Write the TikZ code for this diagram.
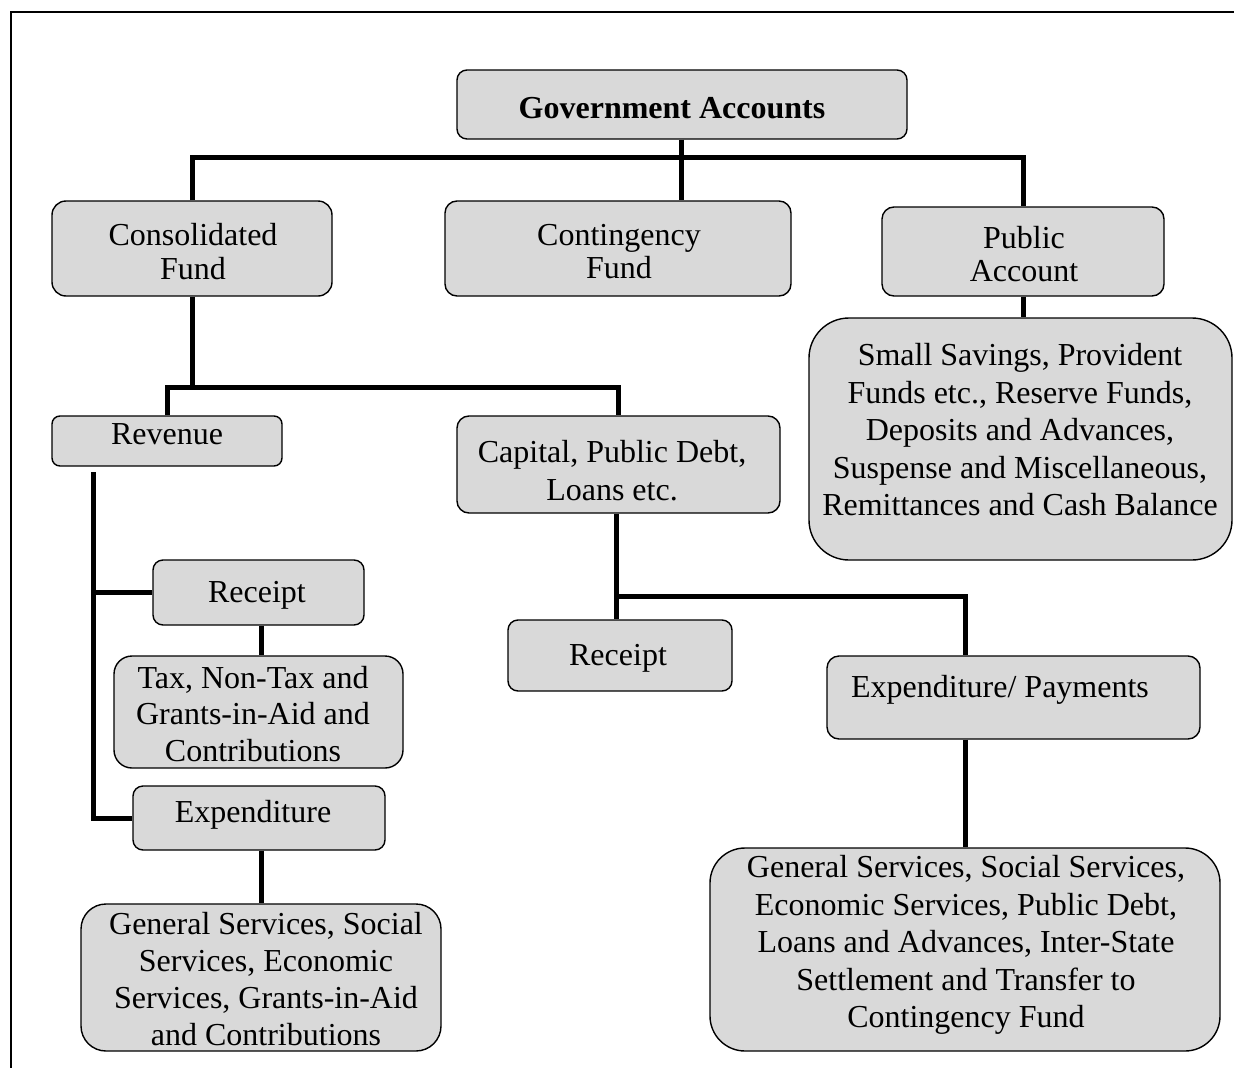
\documentclass[tikz,border=0pt]{standalone}
\usepackage{fontspec}
\setmainfont{Liberation Serif}
\definecolor{boxgray}{RGB}{217,217,217}
\begin{document}
\begin{tikzpicture}[x=1pt,y=-1pt,
  box/.style={draw=black, line width=1.4pt, fill=boxgray, inner sep=0pt, rectangle},
  txt/.style={align=center, inner sep=0pt, font=\fontsize{32}{#1}\selectfont},
  txt/.default=37.5,
  conn/.style={line width=5pt, line join=miter}
]
\useasboundingbox (0,0) rectangle (1234,1068);
\draw[line width=1.8pt] (11,1068) -- (11,12) -- (1234,12);

% boxes
\node[box, rounded corners=10pt, minimum width=450, minimum height=69] (ga) at (682,104.5) {};
\node[box, rounded corners=14pt, minimum width=280, minimum height=95] (cons) at (192,248.5) {};
\node[box, rounded corners=12pt, minimum width=346, minimum height=95] (cont) at (618,248.5) {};
\node[box, rounded corners=12pt, minimum width=282, minimum height=89] (pub) at (1023,251.5) {};
\node[box, rounded corners=40pt, minimum width=423, minimum height=242] (big) at (1020.5,439) {};
\node[box, rounded corners=8pt, minimum width=230, minimum height=50] (rev) at (167,441) {};
\node[box, rounded corners=12pt, minimum width=323, minimum height=97] (cap) at (618.5,464.5) {};
\node[box, rounded corners=10pt, minimum width=211, minimum height=65] (rec1) at (258.5,592.5) {};
\node[box, rounded corners=18pt, minimum width=289, minimum height=112] (tax) at (258.5,712) {};
\node[box, rounded corners=10pt, minimum width=252, minimum height=64] (exp1) at (259,818) {};
\node[box, rounded corners=25pt, minimum width=360, minimum height=147] (bl) at (261,977.5) {};
\node[box, rounded corners=10pt, minimum width=224, minimum height=71] (rec2) at (620,655.5) {};
\node[box, rounded corners=12pt, minimum width=373, minimum height=83] (expp) at (1013.5,697.5) {};
\node[box, rounded corners=35pt, minimum width=510, minimum height=203] (br) at (965,949.5) {};

% texts
\node[txt, font=\fontsize{32}{34}\selectfont\bfseries] (gat) at (672,108) {Government Accounts};
\node[txt=34] (const) at (193,252) {Consolidated\\Fund};
\node[txt=33] (contt) at (619,252) {Contingency\\Fund};
\node[txt=33] (pubt) at (1024,254) {Public\\Account};
\node[txt=37.5] (bigt) at (1020,430) {Small Savings, Provident\\Funds etc., Reserve Funds,\\Deposits and Advances,\\Suspense and Miscellaneous,\\Remittances and Cash Balance};
\node[txt] (revt) at (167,434) {Revenue};
\node[txt=38] (capt) at (612,471) {Capital, Public Debt,\\Loans etc.};
\node[txt] (rec1t) at (257,595) {Receipt};
\node[txt=36.5] (taxt) at (253,714) {Tax, Non-Tax and\\Grants-in-Aid and\\Contributions};
\node[txt] (exp1t) at (253,815) {Expenditure};
\node[txt=37] (blt) at (266,979) {General Services, Social\\Services, Economic\\Services, Grants-in-Aid\\and Contributions};
\node[txt] (rec2t) at (618,658) {Receipt};
\node[txt] (exppt) at (1000,690) {Expenditure/ Payments};
\node[txt=37.5] (brt) at (966,945) {General Services, Social Services,\\Economic Services, Public Debt,\\Loans and Advances, Inter-State\\Settlement and Transfer to\\Contingency Fund};

% connectors
\coordinate (bus) at (681,157);
\coordinate (bus2) at (400,387);
\coordinate (rv) at (93,472);
\coordinate (cb) at (616,596);
\draw[conn] (cons.north) |- (bus) -| (pub.north);
\draw[conn] (ga.south -| bus) -- (bus |- cont.north);
\draw[conn] (pub.south) -- (pub.south |- big.north);
\draw[conn] (cons.south) -- (cons.south |- bus2);
\draw[conn] (rev.north) |- (bus2) -| (cap.north);
\draw[conn] (rv) |- (rec1.west);
\draw[conn] (rv) |- (exp1.west);
\draw[conn] ([xshift=3]rec1.south) -- ([xshift=3]rec1.south |- tax.north);
\draw[conn] ([xshift=2]exp1.south) -- ([xshift=2]exp1.south |- bl.north);
\draw[conn] (cb |- cap.south) -- (cb |- rec2.north);
\draw[conn] (cb) -| (br.north |- expp.north);
\draw[conn] (br.north |- expp.south) -- (br.north);
\end{tikzpicture}
\end{document}
